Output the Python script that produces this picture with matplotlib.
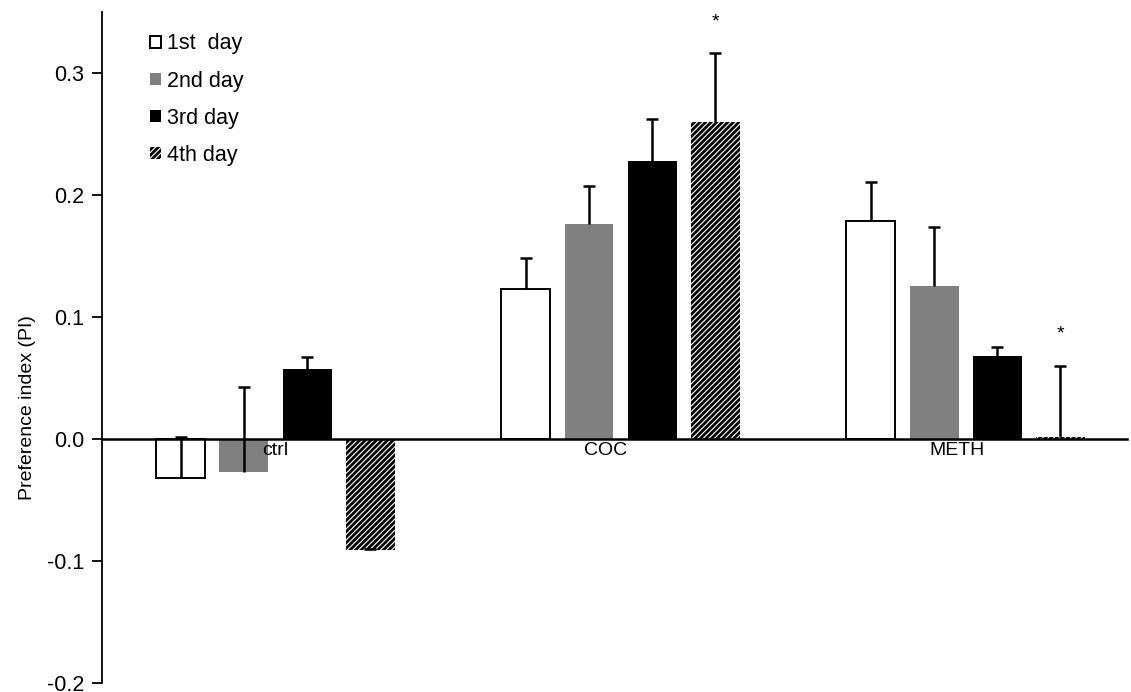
import matplotlib
matplotlib.use("Agg")
import matplotlib.pyplot as plt
from matplotlib.patches import Patch
import numpy as np

plt.rcParams['font.family'] = ['Liberation Sans', 'DejaVu Sans']
plt.rcParams['hatch.linewidth'] = 2.0

groups = ["ctrl", "COC", "METH"]
series = ["1st  day", "2nd day", "3rd day", "4th day"]
day1 = [-0.032, 0.123, 0.179]
day2 = [-0.027, 0.176, 0.125]
day3 = [0.057, 0.228, 0.068]
day4 = [-0.091, 0.260, 0.002]
err1 = [0.034, 0.025, 0.032]
err2 = [0.070, 0.031, 0.049]
err3 = [0.010, 0.034, 0.007]
err4 = [0.001, 0.056, 0.058]
star_groups = [1, 2]  # groups with * over the 4th day bar

values = [day1, day2, day3, day4]
errors = [err1, err2, err3, err4]
styles = [
    dict(facecolor="white", edgecolor="black", linewidth=1.4),
    dict(facecolor="#808080", edgecolor="#808080", linewidth=0),
    dict(facecolor="black", edgecolor="black", linewidth=0),
    dict(facecolor="white", edgecolor="black", linewidth=0, hatch="//////"),
]

fig = plt.figure(figsize=(11.31, 6.92), dpi=100)
ax = fig.add_axes([0.0902, 0.013, 0.9063, 0.9697])

x = np.arange(len(groups))
width = 0.142
step = 0.183
offsets = [-1.5, -0.5, 0.5, 1.5]
capw = 0.018
for i in range(4):
    xpos = x + offsets[i] * step
    vals = np.array(values[i])
    tops = vals + np.array(errors[i])
    ax.bar(xpos, vals, width, zorder=2, **styles[i])
    ax.vlines(xpos, vals, tops, colors="black", linewidth=1.8, zorder=3)
    ax.hlines(tops, xpos - capw, xpos + capw, colors="black", linewidth=1.8, zorder=3)

for g in star_groups:
    xp = x[g] + offsets[3] * step
    top = values[3][g] + errors[3][g]
    ax.text(xp, top + 0.019, "*", ha="center", va="bottom", fontsize=14)

ax.set_xlim(-0.503, 2.468)
ax.set_ylim(-0.2, 0.35)
ax.set_yticks([-0.2, -0.1, 0.0, 0.1, 0.2, 0.3])
ax.set_yticklabels(["-0.2", "-0.1", "0.0", "0.1", "0.2", "0.3"])
ax.spines['top'].set_visible(False)
ax.spines['right'].set_visible(False)
ax.spines['bottom'].set_position(('data', 0))
ax.spines['bottom'].set_linewidth(1.8)
ax.spines['bottom'].set_zorder(4)
ax.spines['left'].set_linewidth(1.3)
ax.tick_params(axis='y', direction='out', length=7, width=1.3, labelsize=15.5, pad=6)
ax.set_xticks([])

label_shift = [0, -15, -9]
for g, name in enumerate(groups):
    ax.annotate(name, xy=(x[g], 0), xytext=(label_shift[g], -3), textcoords="offset pixels",
                ha="center", va="top", fontsize=14, zorder=10)

ax.set_ylabel("Preference index (PI)", fontsize=14)
ax.yaxis.set_label_coords(-0.064, 0.411)

handles = [Patch(**styles[i]) for i in range(4)]
leg = ax.legend(handles, series, loc="upper left", bbox_to_anchor=(0.047, 0.968),
                frameon=False, fontsize=15.5, handlelength=0.5, handleheight=0.5,
                handletextpad=0.3, labelspacing=0.75, borderaxespad=0, borderpad=0)

fig.savefig("out.png", dpi=100)
